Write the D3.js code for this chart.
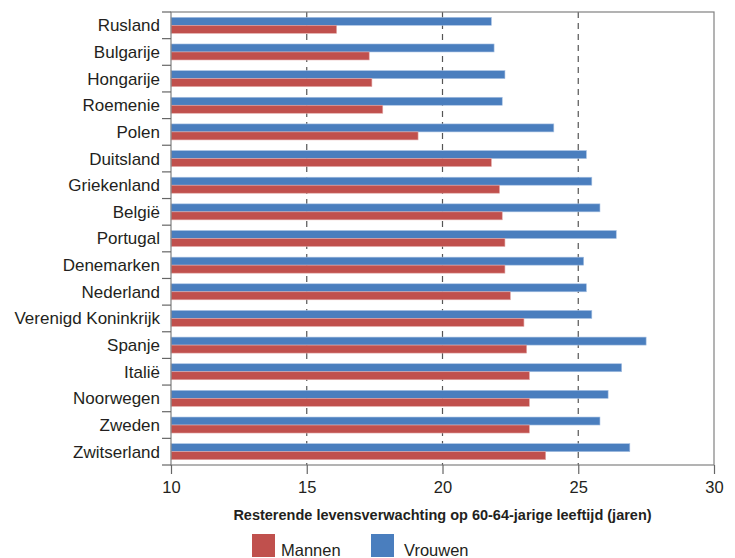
<!DOCTYPE html>
<html>
<head>
<meta charset="utf-8">
<script src="https://cdn.jsdelivr.net/npm/d3@7"></script>
<style>
  body { margin: 0; background: #fff; }
  text { font-family: "Liberation Sans", Arial, sans-serif; fill: #231f20; }
</style>
</head>
<body>
<svg width="735" height="558"></svg>
<script>
const countries = ['Rusland', 'Bulgarije', 'Hongarije', 'Roemenie', 'Polen', 'Duitsland',
  'Griekenland', 'België', 'Portugal', 'Denemarken', 'Nederland', 'Verenigd Koninkrijk',
  'Spanje', 'Italië', 'Noorwegen', 'Zweden', 'Zwitserland'];
const vrouwen = [21.8, 21.9, 22.3, 22.2, 24.1, 25.3, 25.5, 25.8, 26.4, 25.2, 25.3, 25.5, 27.5, 26.6, 26.1, 25.8, 26.9];
const mannen = [16.1, 17.3, 17.4, 17.8, 19.1, 21.8, 22.1, 22.2, 22.3, 22.3, 22.5, 23.0, 23.1, 23.2, 23.2, 23.2, 23.8];
const xTicks = [10, 15, 20, 25, 30];
const gridTicks = [15, 20, 25];

const svg = d3.select('svg');
const margin = {top: 12, right: 21, bottom: 93, left: 171};
const width = +svg.attr('width') - margin.left - margin.right;
const height = +svg.attr('height') - margin.top - margin.bottom;

const g = svg.append('g')
    .attr('transform', `translate(${margin.left},${margin.top})`);

const x = d3.scaleLinear().domain([10, 30]).range([0, width]);
const y = d3.scaleBand().domain(countries).range([0, height]).paddingInner(0.4).paddingOuter(0.2);

//dashed grid
g.selectAll('.grid').data(gridTicks).join('line')
    .attr('x1', d => x(d)).attr('x2', d => x(d))
    .attr('y1', 0).attr('y2', height)
    .attr('stroke', '#555').attr('stroke-width', 1.2)
    .attr('stroke-dasharray', '6,5');

const bh = y.bandwidth() / 2;

//vrouwen bars (top)
g.selectAll('.v').data(countries).join('rect')
    .attr('x', x(10))
    .attr('y', d => y(d))
    .attr('width', (d, i) => x(vrouwen[i]) - x(10))
    .attr('height', bh)
    .attr('fill', '#4a7ebe')
    .attr('stroke', '#a9c2e3').attr('stroke-width', 0.6);

//mannen bars (bottom)
g.selectAll('.m').data(countries).join('rect')
    .attr('x', x(10))
    .attr('y', d => y(d) + bh)
    .attr('width', (d, i) => x(mannen[i]) - x(10))
    .attr('height', bh)
    .attr('fill', '#c0504d')
    .attr('stroke', '#e2a9a7').attr('stroke-width', 0.6);

//frame
g.append('rect')
    .attr('width', width).attr('height', height)
    .attr('fill', 'none').attr('stroke', '#808080').attr('stroke-width', 1.2);

//left ticks on band boundaries
const step = y.step();
g.selectAll('.ytick').data(d3.range(countries.length + 1)).join('line')
    .attr('x1', -9).attr('x2', 0)
    .attr('y1', d => d * step).attr('y2', d => d * step)
    .attr('stroke', '#666').attr('stroke-width', 1.2);

g.selectAll('.ylab').data(countries).join('text')
    .attr('x', -11)
    .attr('y', d => y(d) + y.bandwidth() / 2)
    .attr('dy', '0.35em')
    .attr('text-anchor', 'end')
    .attr('font-size', 17)
    .text(d => d);

//x axis
const xAxis = g.append('g')
    .attr('transform', `translate(0,${height})`)
    .call(d3.axisBottom(x).tickValues(xTicks).tickSize(9).tickPadding(7));
xAxis.select('.domain').remove();
xAxis.selectAll('line').attr('stroke', '#666').attr('stroke-width', 1.2);
xAxis.selectAll('text').attr('font-size', 16.5)
    .attr('font-family', '"Liberation Sans", Arial, sans-serif').attr('fill', '#231f20');

g.append('text')
    .attr('x', x(20))
    .attr('y', height + 55)
    .attr('text-anchor', 'middle')
    .attr('font-size', 14.5)
    .attr('font-weight', 'bold')
    .text('Resterende levensverwachting op 60-64-jarige leeftijd (jaren)');

//legend
const legend = [{name: 'Mannen', color: '#c0504d', x: 252, off: 29}, {name: 'Vrouwen', color: '#4a7ebe', x: 371, off: 33}];
const lg = svg.selectAll('.leg').data(legend).join('g')
    .attr('transform', d => `translate(${d.x},534)`);
lg.append('rect').attr('width', 23).attr('height', 23).attr('fill', d => d.color);
lg.append('text').attr('x', d => d.off).attr('y', 22).attr('font-size', 16.5).text(d => d.name);
</script>
</body>
</html>
